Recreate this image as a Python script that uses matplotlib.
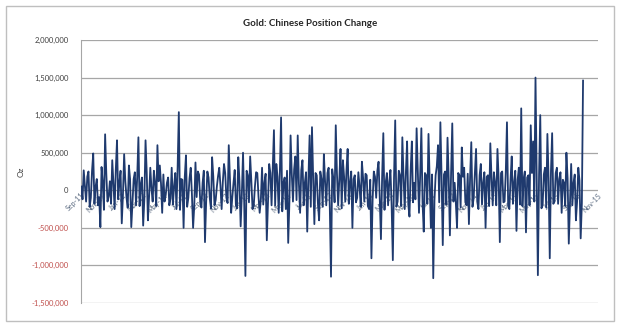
import matplotlib
matplotlib.use("Agg")
import matplotlib.pyplot as plt
import matplotlib.dates as mdates
import matplotlib.ticker as mticker
from matplotlib.patches import Rectangle
import pandas as pd

# position change, thousand oz (main readings, one per week)
CHANGE_K = [
    50, 265, -150, 250, -100, 490, 50, -200, -490, 100,
    745, -150, 120, 400, -250, 665, 100, -440, 480, -100,
    330, -490, 150, -200, 705, 80, -470, 665, -400, 300,
    -150, 100, 600, 330, -300, -150, 100, -200, 300, 50,
    -250, 1040, 150, -500, 465, -100, 300, -500, 370, 250,
    -150, 100, -690, 250, -100, 440, -200, 50, 300, -250,
    350, -100, 600, -300, 100, -200, 440, -480, 500, -1140,
    200, 450, -250, 50, 230, -300, 300, 100, -665, 350,
    -200, 800, 350, -300, 970, 100, -250, -700, 730, -150,
    450, 730, -300, 400, 100, -550, 730, 840, -450, 200,
    -400, 150, 480, -200, 300, -1150, 150, 865, -200, 550,
    400, -150, 550, 100, -500, 200, -100, 50, 380, -150,
    200, -250, -905, 250, -100, 380, -650, 760, 100, -200,
    270, -930, 930, -150, 200, 705, -250, 650, -350, 650,
    100, 825, -300, 825, -550, 200, 750, -500, -1170, 200,
    600, 905, -730, 250, 700, -600, 890, 100, -500, 200,
    570, 300, -200, -450, 640, -100, 550, -250, 350, 100,
    -500, 200, 625, -200, 100, 550, -690, 250, -150, 905,
    -250, 450, 100, -540, 300, 1090, 150, -560, 200, 865,
    650, 1500, -1130, 1000, -200, 300, 750, -905, 760, -150,
    300, 150, -300, 100, 500, -710, 350, 100, -400, 300,
    -640, 1460,
]
# mid-week readings between the ones above (thousand oz)
MID_K = [
    -120, 60, 180, -220, 260, -180, 150, -90, 310, -260,
    220, -80, -180, 90, 280, -120, 260, -60, 120, -230,
    150, -160, 240, 180, -210, 170, -120, 240, -80, 20,
    260, -210, 120, 90, 210, -60, 170, -110, -190, 230,
    310, -260, 140, 180, -220, 160, -50, -200, -90, 210,
    -230, 260, -150, 170, -240, 180, -130, 190, 60, 110,
    230, -170, 150, -90, 270, -240, 120, -50, -180, 260,
    -160, 120, -210, 240, -80, -120, -190, 220, -150, 230,
    320, -200, 180, 260, -280, 170, 260, -160, 220, 280,
    -130, 90, 270, -200, 240, 150, -220, 160, 230, -180,
    250, -220, 120, 230, -240, 280, -160, 220, 150, -240,
    180, 260, -180, 250, 150, -160, 240, -220, 160, 220,
    -210, 140, -120, 180, 260, -110, 180, -260, 230, 110,
    -210, 160, -220, 260, -210, 180, 240, -190, 270, -160,
    -120, 280, 200, -170, 230, -180, 150, 210, -140, 320,
    -160, 180, 210, -190, 160, 230, -150, -170, 230, -230,
    180, -160, 220, 180, -220, 240, -150, 200, -190, 240,
    180, -210, 170, 240, -200, 160, 230, -160, 240, -200,
    140, -180, 260, 140, -190, -210, 250, 170, -200, 230,
    -150, 180, 210, -240, 210, -230, 160, 250, -180, 230,
    -180, 240, 140, -210, 160, -170, -200, 210, -150, 130,
    -170,
]
START = "2011-09-02"
Y_TICKS = [-1500000, -1000000, -500000, 0, 500000, 1000000, 1500000, 2000000]

plt.rcParams["font.family"] = ["Lato", "DejaVu Sans"]

# interleave weekly and mid-week readings
merged = []
for i, v in enumerate(CHANGE_K):
    merged.append(v)
    if i < len(MID_K):
        merged.append(MID_K[i])
dates = pd.date_range(START, periods=len(merged), freq="84h")
values = [v * 1000 for v in merged]

fig = plt.figure(figsize=(6.2, 3.27), dpi=100)
ax = fig.add_axes([81 / 620, 1 - 303 / 327, 517 / 620, 263 / 327])

ax.plot(dates, values, color="#1f3a6e", lw=1.3, zorder=3)

ax.set_ylim(-1500000, 2000000)
ax.set_yticks(Y_TICKS)
ax.yaxis.set_major_formatter(mticker.FuncFormatter(lambda v, p: f"{v:,.0f}"))
ax.set_xlim(pd.Timestamp("2011-09-01"), pd.Timestamp("2015-11-01"))
ax.xaxis.set_major_locator(mdates.MonthLocator(bymonth=[1, 3, 5, 7, 9, 11]))
ax.xaxis.set_major_formatter(mdates.DateFormatter("%b-%y"))

ax.set_axisbelow(True)
ax.grid(axis="y", color="#a6a6a6", lw=0.9)
for s in ["top", "right"]:
    ax.spines[s].set_visible(False)
ax.spines["left"].set_color("#a6a6a6")
ax.spines["bottom"].set_position(("data", 0))
ax.spines["bottom"].set_visible(False)

ax.tick_params(axis="y", length=0, pad=9, labelsize=5.5, labelcolor="#404040")
ax.tick_params(axis="x", length=0, pad=1, labelsize=5, labelcolor="#5a6a80")
for lbl in ax.get_xticklabels():
    lbl.set_rotation(45)
    lbl.set_ha("right")
    lbl.set_rotation_mode("anchor")
for lbl, v in zip(ax.get_yticklabels(), Y_TICKS):
    if v < 0:
        lbl.set_color("#c0504d")

ax.set_ylabel("Oz", fontsize=6, color="#404040")
ax.yaxis.set_label_coords(-56 / 517, 0.5)
fig.text(0.5, 1 - 24 / 327, "Gold: Chinese Position Change", ha="center", va="center",
         fontsize=7, fontweight="bold", color="#262626")

fig.patches.append(Rectangle((6 / 620, 6 / 327), 608 / 620, 315 / 327, transform=fig.transFigure,
                             fill=False, edgecolor="#bfbfbf", lw=1))

fig.savefig("out.png", dpi=100)
